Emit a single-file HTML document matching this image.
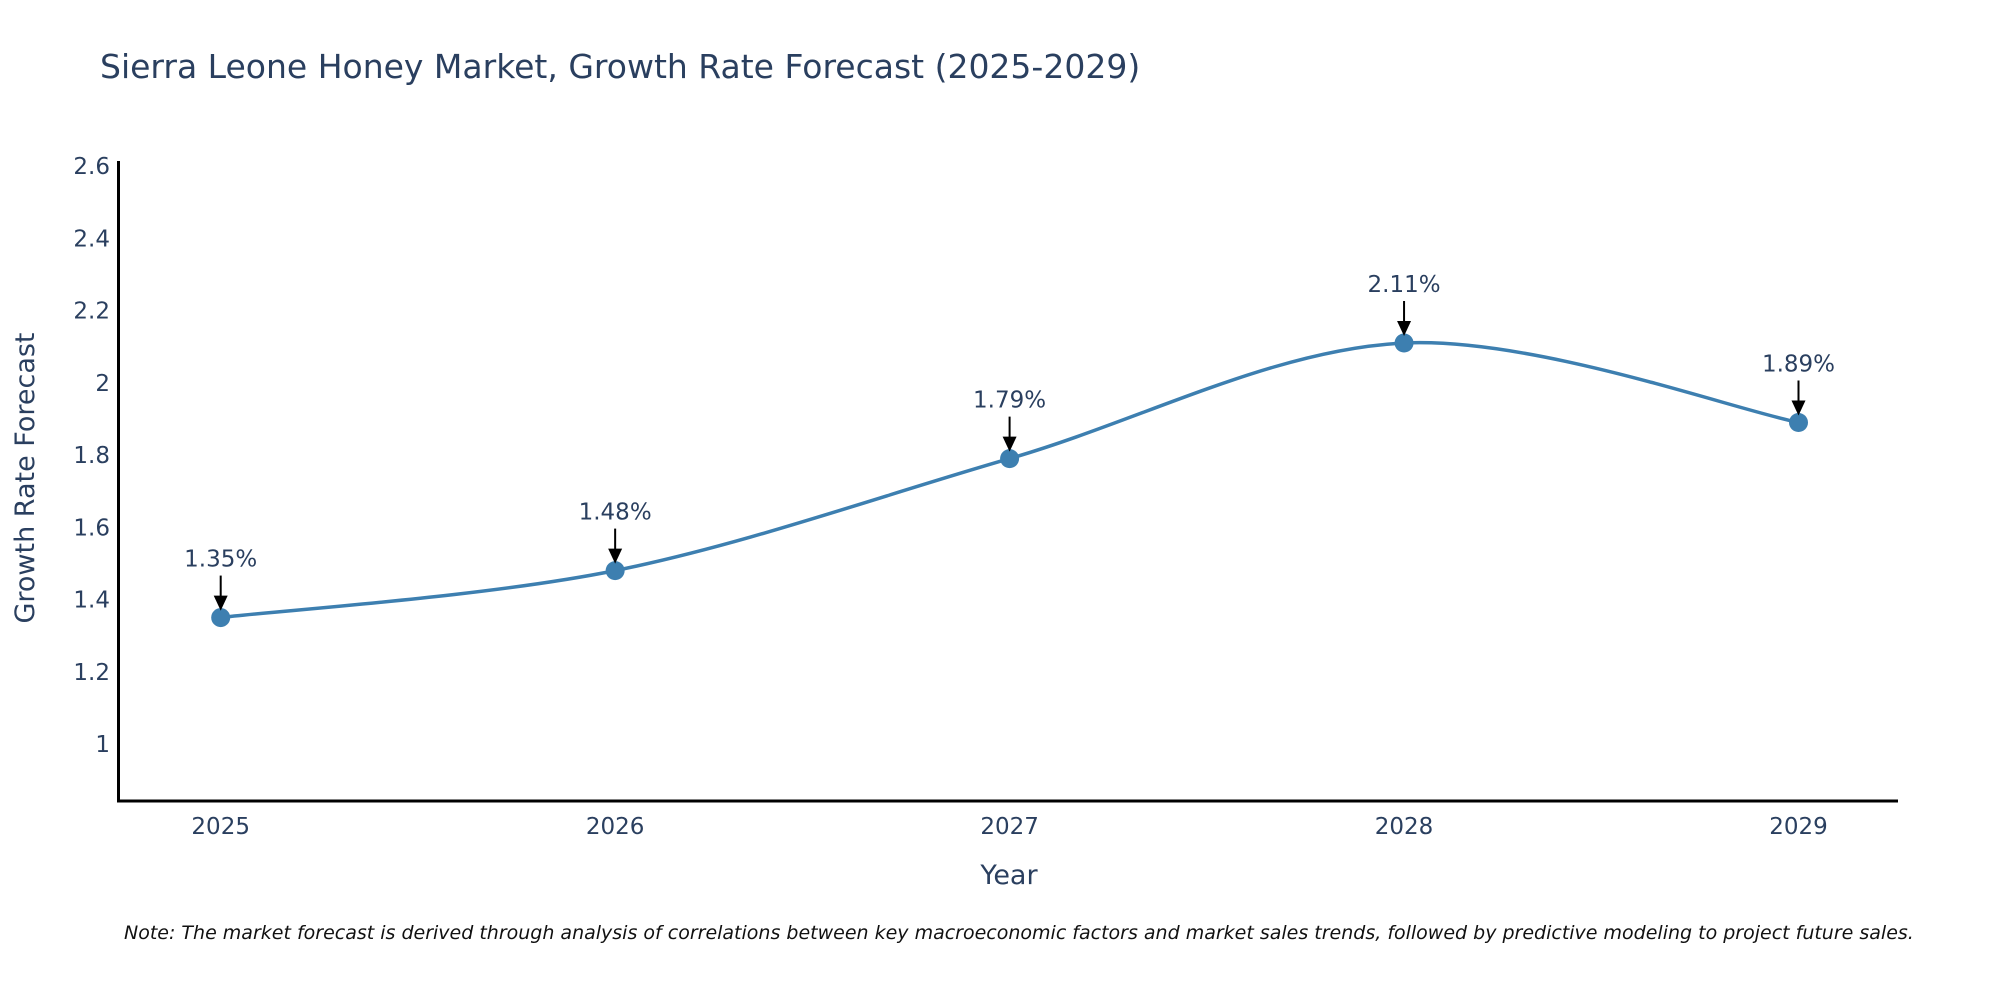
<!DOCTYPE html>
<html><head><meta charset="utf-8"><style>
body{margin:0;background:#fff;font-family:"DejaVu Sans",sans-serif;}
svg text{font-family:"DejaVu Sans",sans-serif;fill:#2a3f5f;}
</style></head><body>
<svg width="2000" height="1000" xmlns="http://www.w3.org/2000/svg">
<text x="100" y="78" font-size="33">Sierra Leone Honey Market, Growth Rate Forecast (2025-2029)</text>
<g id="yticks"></g><g id="xticks"></g>
<line x1="118.5" y1="161" x2="118.5" y2="802" stroke="#000" stroke-width="3"/>
<line x1="117" y1="801" x2="1898" y2="801" stroke="#000" stroke-width="3"/>
<path id="line" fill="none" stroke="#3d7fb0" stroke-width="3.5"/>
<g id="marks"></g>
<text x="0" y="0" transform="translate(34,478) rotate(-90)" text-anchor="middle" font-size="27">Growth Rate Forecast</text>
<text x="1009" y="884" text-anchor="middle" font-size="27">Year</text>
<text x="124" y="939" font-size="19" font-style="italic" style="fill:#111">Note: The market forecast is derived through analysis of correlations between key macroeconomic factors and market sales trends, followed by predictive modeling to project future sales.</text>
</svg>
<script>
const years=[2025,2026,2027,2028,2029];
const values=[1.35,1.48,1.79,2.11,1.89];
const yTicks=[1,1.2,1.4,1.6,1.8,2,2.2,2.4,2.6];
const yTickLabels=["1","1.2","1.4","1.6","1.8","2","2.2","2.4","2.6"];
const NS="http://www.w3.org/2000/svg";
function xs(v){return 220.7+(v-2025)*394.45;}
function ys(v){return 744-(v-1)*361.25;}
function mk(t,a,p){const e=document.createElementNS(NS,t);for(const k in a)e.setAttribute(k,a[k]);p.appendChild(e);return e;}
const yt=document.getElementById('yticks');
yTicks.forEach((v,i)=>{const t=mk('text',{x:110,y:ys(v)+8,'text-anchor':'end','font-size':23},yt);t.textContent=yTickLabels[i];

});
const xt=document.getElementById('xticks');
years.forEach(v=>{const t=mk('text',{x:xs(v),y:834,'text-anchor':'middle','font-size':23},xt);t.textContent=v;

});
const P=years.map((y,i)=>[xs(y),ys(values[i])]);
let d=`M${P[0][0]},${P[0][1]}`;const s=0.33;
for(let i=0;i<P.length-1;i++){const p0=P[i-1]||P[i],p1=P[i],p2=P[i+1],p3=P[i+2]||P[i+1];
const c1=[p1[0]+(p2[0]-p0[0])*s/2,p1[1]+(p2[1]-p0[1])*s/2];
const c2=[p2[0]-(p3[0]-p1[0])*s/2,p2[1]-(p3[1]-p1[1])*s/2];
d+=` C${c1[0]},${c1[1]} ${c2[0]},${c2[1]} ${p2[0]},${p2[1]}`;}
document.getElementById('line').setAttribute('d',d);
const m=document.getElementById('marks');
P.forEach((p,i)=>{
const c=mk('circle',{cx:p[0],cy:p[1],r:9.5,fill:'#3d7fb0'},m);


const l=mk('line',{x1:p[0],y1:p[1]-42,x2:p[0],y2:p[1]-20,stroke:'#000','stroke-width':2},m);


const h=mk('polygon',{points:`${p[0]-7},${p[1]-22} ${p[0]+7},${p[1]-22} ${p[0]},${p[1]-7}`,fill:'#000'},m);


const t=mk('text',{x:p[0],y:p[1]-51,'text-anchor':'middle','font-size':23},m);t.textContent=values[i].toFixed(2)+'%';


});
</script>
</body></html>
